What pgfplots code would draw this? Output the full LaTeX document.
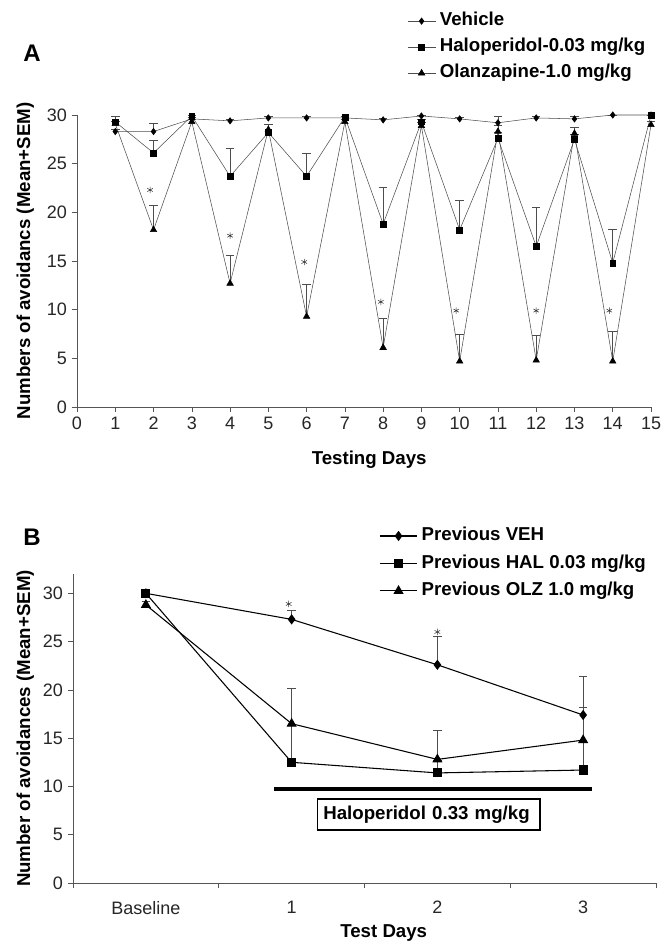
\documentclass[border=0pt]{standalone}
\usepackage{fontspec}
\setmainfont{Liberation Sans}
\usepackage{pgfplots}
\pgfplotsset{compat=1.18}
\definecolor{ln}{HTML}{4D4D4D}
\definecolor{ax}{HTML}{555555}

\pgfplotsset{
  panel/.style={
    scale only axis, clip=false,
    axis x line*=bottom, axis y line*=left,
    axis line style={ax, -},
    tick align=outside, major tick length=4pt,
    tick style={ax, thin},
    ymin=0, ytick={0,5,...,30},
    /pgf/number format/assume math mode=true,
    ticklabel style={font=\fontsize{13.5}{15}\selectfont, text=black!85},
    label style={font=\bfseries\fontsize{14}{16}\selectfont},
    legend cell align=left,
    legend style={draw=none, fill=none, inner sep=0pt, column sep=3pt,
      font=\bfseries\fontsize{14}{16}\selectfont,
      nodes={inner sep=0pt, text height=10pt, text depth=3pt}},
  },
  ebar/.style={error bars/.cd, y dir=plus, y explicit,
    error bar style={ln, thin}, error mark options={rotate=90, ln, thin, mark size=3.2pt}},
}

\begin{document}
\begin{tikzpicture}
\useasboundingbox (0,0) rectangle (500.25pt,-708pt);

% ---------- panel A ----------
\begin{axis}[panel,
  at={(57.75pt,-305.25pt)}, anchor=south west,
  width=430.5pt, height=219pt,
  xmin=0, xmax=15, xtick={0,...,15}, ymax=30,
  xlabel={Testing Days},
  ylabel={Numbers of avoidancs (Mean+SEM)},
  xlabel style={at={(axis description cs:0.509,-0.18)}, anchor=center},
  ylabel style={at={(axis description cs:-0.09,0.5)}, anchor=center},
  legend style={at={(0.575,1.352)}, anchor=north west, row sep=6.5pt},
  legend image code/.code={\draw[mark repeat=2,mark phase=2] plot coordinates {(0pt,0pt)(10.5pt,0pt)(21pt,0pt)};},
]
\addplot[ln, thin, mark=diamond*, mark size=2.4pt, mark options={black, solid}, ebar]
  table[x=x, y=y, y error=e] {
x y e
1 28.3 0.2
2 28.3 0.9
3 29.6 0.2
4 29.4 0.2
5 29.7 0.2
6 29.7 0.2
7 29.7 0.2
8 29.5 0.2
9 29.9 0.1
10 29.6 0.2
11 29.2 0.7
12 29.7 0.2
13 29.6 0.3
14 30.0 0.0
15 30.0 0.0
};
\addplot[ln, thin, mark=square*, mark size=2.2pt, mark options={black, solid}, ebar]
  table[x=x, y=y, y error=e] {
x y e
1 29.3 0.6
2 26.1 1.3
3 29.9 0.1
4 23.7 2.9
5 28.2 0.8
6 23.7 2.4
7 29.8 0.1
8 18.8 3.8
9 29.3 0.3
10 18.2 3.0
11 27.6 0.6
12 16.5 4.0
13 27.5 0.5
14 14.8 3.5
15 30.0 0.0
};
\addplot[ln, thin, mark=triangle*, mark size=2.8pt, mark options={black, solid}, ebar]
  table[x=x, y=y, y error=e] {
x y e
1 29.1 0.3
2 18.2 2.5
3 29.3 0.3
4 12.7 2.9
5 28.5 0.5
6 9.3 3.3
7 29.3 0.3
8 6.1 3.0
9 28.9 0.4
10 4.7 2.8
11 28.3 0.6
12 4.8 2.6
13 28.1 0.6
14 4.7 3.1
15 29.0 0.4
};
\addplot[forget plot, only marks, mark=asterisk, mark size=2.4pt, black!80]
  coordinates {(1.91,22.3) (4,17.6) (5.94,14.9) (7.94,10.8) (9.91,9.9) (12,9.9) (13.91,9.9)};
\legend{Vehicle, Haloperidol-0.03 mg/kg, Olanzapine-1.0 mg/kg}
\end{axis}
\node[font=\bfseries\fontsize{18}{20}\selectfont] at (24pt,-39.75pt) {A};

% ---------- panel B ----------
\begin{axis}[panel,
  at={(54.75pt,-662.25pt)}, anchor=south west,
  width=437.25pt, height=231.75pt,
  xmin=-0.5, xmax=3.5, ymax=32,
  xtick={-0.5,0.5,1.5,2.5,3.5}, x tick label as interval,
  xticklabels={Baseline,1,2,3},
  xticklabel style={yshift=-6pt},
  xlabel={Test Days},
  ylabel={Number of avoidances (Mean+SEM)},
  xlabel style={at={(axis description cs:0.533,-0.162)}, anchor=center},
  ylabel style={at={(axis description cs:-0.082,0.5)}, anchor=center},
  legend style={at={(0.525,1.152)}, anchor=north west, row sep=7.6pt},
  legend image code/.code={\draw[mark repeat=2,mark phase=2] plot coordinates {(0pt,0pt)(14pt,0pt)(28pt,0pt)};},
]
\addplot[black, line width=0.8pt, mark=diamond*, mark size=3.2pt, mark options={black, solid}, ebar]
  table[x=x, y=y, y error=e] {
x y e
0 30.0 0.1
1 27.3 0.9
2 22.6 3.0
3 17.4 4.0
};
\addplot[black, line width=0.8pt, mark=square*, mark size=3pt, mark options={black, solid}, ebar]
  table[x=x, y=y, y error=e] {
x y e
0 30.0 0.1
1 12.5 3.8
2 11.4 1.3
3 11.7 3.0
};
\addplot[black, line width=0.8pt, mark=triangle*, mark size=3.6pt, mark options={black, solid}, ebar]
  table[x=x, y=y, y error=e] {
x y e
0 28.8 0.4
1 16.5 3.7
2 12.8 3.0
3 14.8 3.4
};
\addplot[forget plot, only marks, mark=asterisk, mark size=2.4pt, black!80]
  coordinates {(0.98,28.9) (2.0,26.0)};
\addplot[forget plot, black, line width=3pt] coordinates {(0.88,9.7) (3.06,9.7)};
\node[draw=black, line width=1pt, fill=white, inner xsep=4.5pt, inner ysep=5pt,
  text width=158pt, align=left, font=\bfseries\fontsize{14}{16}\selectfont]
  at (axis cs:1.94,7.1) {Haloperidol 0.33 mg/kg};
\legend{Previous VEH, Previous HAL 0.03 mg/kg, Previous OLZ 1.0 mg/kg}
\end{axis}
\node[font=\bfseries\fontsize{18}{20}\selectfont] at (24pt,-402.75pt) {B};
\end{tikzpicture}
\end{document}
